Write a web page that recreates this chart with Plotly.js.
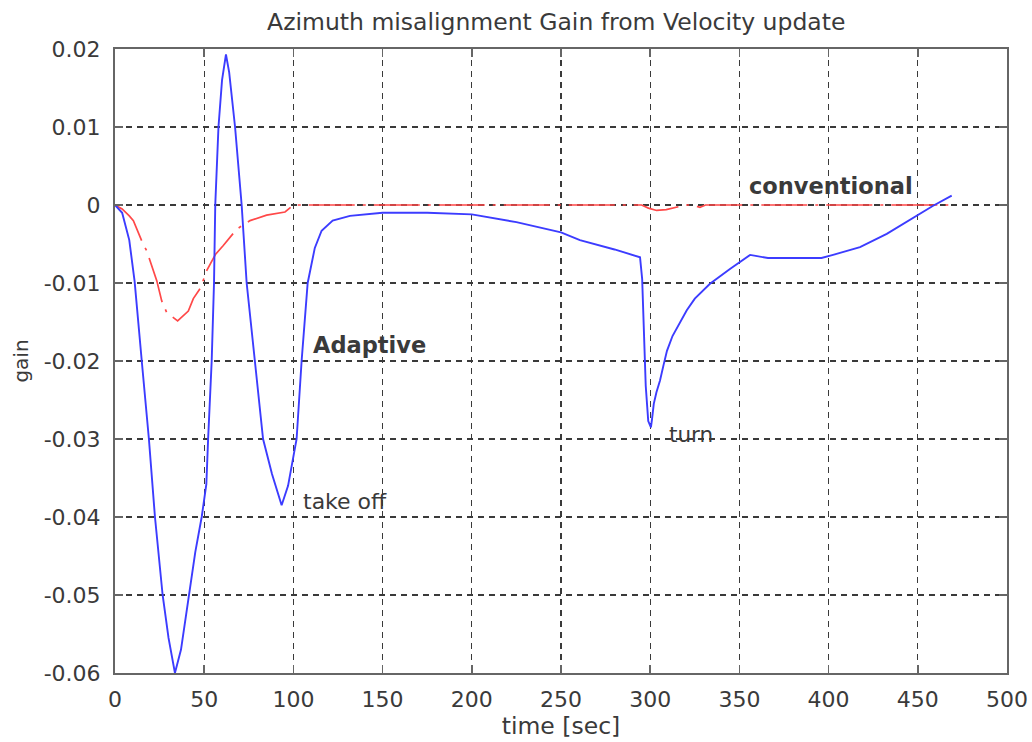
<!DOCTYPE html>
<html>
<head>
<meta charset="utf-8">
<script src="https://cdn.plot.ly/plotly-3.0.1.min.js"></script>
<style>
  html, body { margin: 0; padding: 0; background: #fff; }
  #chart { width: 1032px; height: 742px; }
</style>
</head>
<body>
<div id="chart"></div>
<script>
// Adaptive filter gain (time in seconds, gain)
const adaptiveTime = [0, 4, 8, 11, 15, 19, 22.4, 26.7, 30, 33.6, 37, 41.5, 45, 48.6, 50.5, 51.2, 52.2, 54.2, 55.5, 56.2, 58, 60, 62.2, 64, 67.3, 71, 73.8, 78.5, 83, 88, 93.4, 97, 101.8, 104.6, 108, 112, 115.8, 122, 131.7, 150, 175, 200, 225, 250, 260.6, 280, 294.3, 295.5, 296.5, 297.5, 298.9, 300.4, 301, 302, 303.5, 305.5, 307.5, 309.4, 312.5, 316.7, 320.5, 325, 333.5, 344.7, 356, 366, 396, 402.5, 417.6, 432.6, 449.4, 458.6, 469];
const adaptiveGain = [0, -0.001, -0.0045, -0.0098, -0.02, -0.03, -0.04, -0.05, -0.0555, -0.06, -0.057, -0.05, -0.0445, -0.04, -0.037, -0.0358, -0.03, -0.02, -0.01, 0, 0.01, 0.016, 0.0193, 0.017, 0.01, 0, -0.01, -0.02, -0.03, -0.0345, -0.0385, -0.036, -0.03, -0.02, -0.01, -0.0055, -0.0033, -0.002, -0.0014, -0.001, -0.001, -0.0012, -0.0022, -0.0035, -0.0045, -0.0057, -0.0067, -0.0095, -0.0164, -0.0232, -0.0277, -0.0285, -0.0275, -0.0255, -0.024, -0.0225, -0.0205, -0.0187, -0.0168, -0.015, -0.0135, -0.012, -0.0101, -0.0082, -0.0064, -0.0068, -0.0068, -0.0064, -0.0054, -0.0037, -0.0014, -0.0001, 0.0012];

// Conventional filter gain
const conventionalTime = [0, 4, 8, 10.3, 15, 17.8, 23.4, 26.2, 29, 35.1, 41.1, 43.9, 48, 51.4, 56.4, 60.7, 68.2, 75.7, 85, 95.3, 100, 290, 295.2, 299, 303.6, 309, 314.8, 320, 324, 327.9, 331, 468];
const conventionalGain = [0, -0.0005, -0.0014, -0.002, -0.0046, -0.0059, -0.0097, -0.0123, -0.0138, -0.01485, -0.0136, -0.012, -0.0106, -0.0084, -0.0063, -0.0052, -0.0031, -0.002, -0.0013, -0.0009, 0, 0, 0, -0.0004, -0.0007, -0.0006, -0.0003, 0, 0, -0.0003, 0, 0];

const xTicks = [0, 50, 100, 150, 200, 250, 300, 350, 400, 450, 500];
const yTicks = [0.02, 0.01, 0, -0.01, -0.02, -0.03, -0.04, -0.05, -0.06];
const yTickText = ['0.02', '0.01', '0', '-0.01', '-0.02', '-0.03', '-0.04', '-0.05', '-0.06'];

// Text labels placed next to the curves
const labelText = ['conventional', 'Adaptive', 'take off', 'turn'];
const labelX = [354, 110, 104.5, 309.5];
const labelY = [0.0025, -0.0179, -0.038, -0.0294];
const labelBold = [true, true, false, false];
const labelSize = [22.5, 22.5, 22, 21.5];

const FONT = 'DejaVu Sans, Liberation Sans, Arial, sans-serif';
const TEXT = '#3a3a3a';

const traces = [
  {
    x: conventionalTime, y: conventionalGain, mode: 'lines', name: 'conventional',
    line: { color: 'rgb(255,72,72)', width: 1.7, dash: '46px,8px,3px,8px' }
  },
  {
    x: adaptiveTime, y: adaptiveGain, mode: 'lines', name: 'Adaptive',
    line: { color: 'rgb(60,60,255)', width: 1.9 }
  }
];

const axisCommon = {
  showgrid: true, gridcolor: '#3a3a3a', gridwidth: 1.3, griddash: '6px,5px',
  showline: true, linecolor: '#666666', linewidth: 2, mirror: 'ticks',
  ticks: 'inside', ticklen: 8, tickwidth: 1.5, tickcolor: '#666666',
  zeroline: false, tickfont: { family: FONT, size: 22, color: TEXT }
};

const layout = {
  width: 1032, height: 742,
  margin: { l: 115, r: 25, t: 49, b: 69 },
  paper_bgcolor: '#ffffff', plot_bgcolor: '#ffffff',
  showlegend: false,
  font: { family: FONT, color: TEXT },
  title: {
    text: 'Azimuth misalignment Gain from Velocity update',
    font: { family: FONT, size: 23.5, color: TEXT },
    x: 0.539, xanchor: 'center', y: 0.97, yanchor: 'middle'
  },
  xaxis: Object.assign({}, axisCommon, {
    range: [0, 500], tickvals: xTicks, ticktext: xTicks.map(String),
    ticklabelstandoff: 6,
    title: { text: 'time [sec]', font: { family: FONT, size: 23.5, color: TEXT }, standoff: 2 }
  }),
  yaxis: Object.assign({}, axisCommon, {
    range: [-0.06, 0.02], tickvals: yTicks, ticktext: yTickText,
    ticklabelstandoff: 8,
    title: { text: 'gain', font: { family: FONT, size: 20, color: TEXT }, standoff: 10 }
  }),
  annotations: labelText.map((t, i) => ({
    x: labelX[i], y: labelY[i], xref: 'x', yref: 'y',
    text: labelBold[i] ? '<b>' + t + '</b>' : t,
    showarrow: false, xanchor: 'left', yanchor: 'middle',
    font: { family: FONT, size: labelSize[i], color: TEXT }
  }))
};

Plotly.newPlot('chart', traces, layout, { staticPlot: true, displayModeBar: false });
</script>
</body>
</html>
